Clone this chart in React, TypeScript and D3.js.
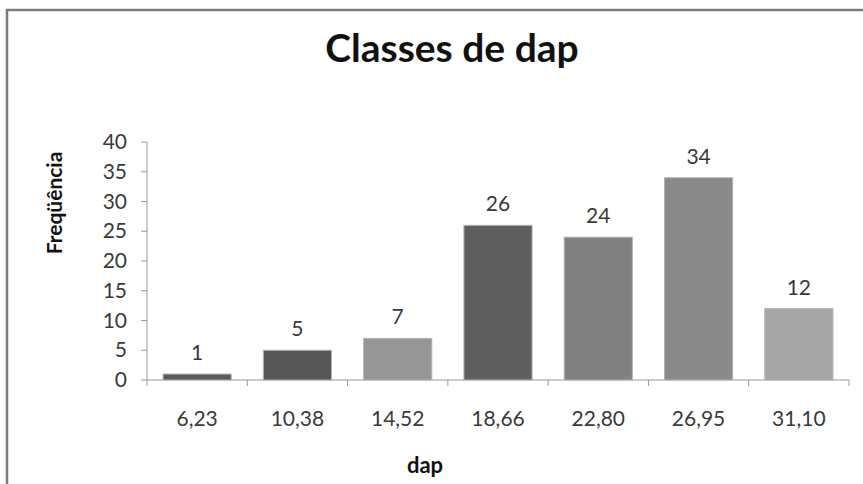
import React from "react";
import * as d3 from "d3";

// Frequency of trees per diameter-at-breast-height class
const categories = ["6,23", "10,38", "14,52", "18,66", "22,80", "26,95", "31,10"];
const frequencies = [1, 5, 7, 26, 24, 34, 12];
const barColors = ["#5a5a5a", "#575757", "#969696", "#5e5e5e", "#808080", "#8a8a8a", "#a6a6a6"];
const yTicks = [0, 5, 10, 15, 20, 25, 30, 35, 40];

const W = 863;
const H = 484;
const FONT = "Lato, 'Open Sans', sans-serif";

export default function App() {
  const x = d3.scaleBand<string>().domain(categories).range([147, 849]).paddingInner(0.32).paddingOuter(0.16);
  const y = d3.scaleLinear().domain([0, 40]).range([380, 142]);
  const step = x.step();
  const bounds = d3.range(categories.length + 1).map((i) => 147 + i * step);

  return (
    <svg
      width={W}
      height={H}
      style={{ position: "absolute", left: 0, top: 0, background: "#fff" }}
      fontFamily={FONT}
    >
      {/* chart frame */}
      <path d={`M7,${H + 5} L7,10 L${W + 5},10`} fill="none" stroke="#7c7c7c" strokeWidth={2.5} />

      <text x={452} y={62} textAnchor="middle" fontSize={39} fontWeight={700} fill="#111">
        Classes de dap
      </text>

      {/* y axis */}
      <line x1={147} x2={147} y1={y(40)} y2={y(0)} stroke="#999" strokeWidth={1} />
      {yTicks.map((t) => (
        <g key={t}>
          <line x1={141} x2={147} y1={y(t)} y2={y(t)} stroke="#999" />
          <text x={127} y={y(t) + 7} textAnchor="end" fontSize={21} fill="#3a3a3a">
            {t}
          </text>
        </g>
      ))}

      {/* x axis */}
      <line x1={147} x2={849} y1={y(0)} y2={y(0)} stroke="#999" />
      {bounds.map((b, i) => (
        <line key={i} x1={b} x2={b} y1={y(0)} y2={y(0) + 6} stroke="#999" />
      ))}
      {categories.map((c) => (
        <text key={c} x={(x(c) ?? 0) + x.bandwidth() / 2} y={426} textAnchor="middle" fontSize={21} fill="#3a3a3a">
          {c}
        </text>
      ))}

      {/* bars with value labels */}
      {categories.map((c, i) => {
        const x0 = x(c) ?? 0;
        const top = y(frequencies[i]);
        return (
          <g key={c}>
            <rect
              x={x0}
              y={top}
              width={x.bandwidth()}
              height={y(0) - top}
              fill={barColors[i]}
              stroke="#b5b5b5"
              strokeWidth={1}
            />
            <text x={x0 + x.bandwidth() / 2} y={top - 14} textAnchor="middle" fontSize={21} fill="#3a3a3a">
              {frequencies[i]}
            </text>
          </g>
        );
      })}

      <text
        transform="translate(62,203) rotate(-90)"
        textAnchor="middle"
        fontSize={21}
        fontWeight={700}
        fill="#111"
      >
        Freqüência
      </text>
      <text x={425} y={473} textAnchor="middle" fontSize={22} fontWeight={700} fill="#111">
        dap
      </text>
    </svg>
  );
}
